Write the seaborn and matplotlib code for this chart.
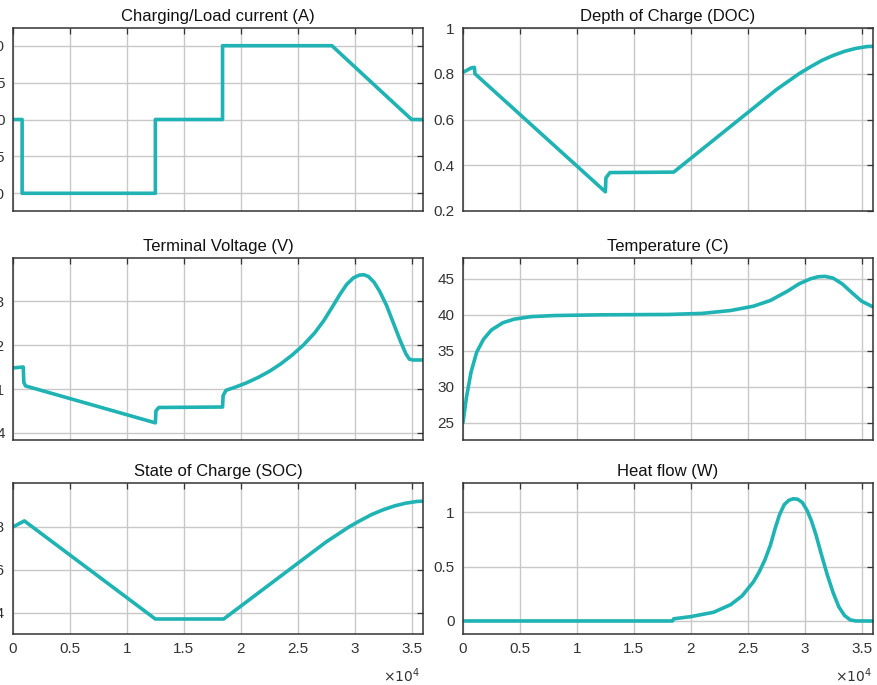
import numpy as np
import pandas as pd
import matplotlib
matplotlib.use("Agg")
import matplotlib.pyplot as plt
import seaborn as sns

# time axis (s) and series values
t_cur = [0, 800, 800, 12500, 12500, 18400, 18400, 28000, 35000, 36000]
i_cur = [0, 0, -10, -10, 0, 0, 10, 10, 0, 0]

t_doc = [0, 700, 1000, 1050, 12500, 12550, 12900, 18500, 21000, 23000, 25000, 26500, 27500,
         28500, 29500, 30500, 31500, 32500, 33500, 34500, 35500, 36000]
doc = [0.806, 0.825, 0.828, 0.80, 0.284, 0.345, 0.368, 0.37, 0.47, 0.55, 0.63, 0.69, 0.73,
       0.765, 0.80, 0.83, 0.858, 0.88, 0.898, 0.911, 0.919, 0.92]

t_volt = [0, 900, 950, 1100, 12500, 12550, 12800, 18400, 18450, 18700, 19500, 20500, 21500,
          22500, 23500, 24500, 25500, 26500, 27300, 28000, 28700, 29300, 29900, 30400, 30800,
          31200, 31700, 32200, 32800, 33400, 34000, 34500, 34800, 35100, 36000]
volt = [4.148, 4.150, 4.115, 4.107, 4.023, 4.050, 4.058, 4.059, 4.085, 4.097, 4.104, 4.114, 4.126,
        4.14, 4.157, 4.177, 4.20, 4.228, 4.256, 4.285, 4.315, 4.338, 4.353, 4.359, 4.360,
        4.356, 4.343, 4.322, 4.29, 4.25, 4.21, 4.18, 4.168, 4.166, 4.166]

t_temp = [0, 300, 700, 1200, 1800, 2500, 3500, 4500, 6000, 8000, 12000, 18000, 21000, 23500,
          25500, 27000, 28500, 29500, 30500, 31200, 31800, 32500, 33300, 34200, 35000, 36000]
temp = [25, 28.5, 32.0, 34.8, 36.6, 37.9, 38.9, 39.4, 39.75, 39.9, 40.0, 40.05, 40.2, 40.6,
        41.2, 42.0, 43.3, 44.3, 45.0, 45.3, 45.35, 45.1, 44.3, 43.0, 41.9, 41.1]

t_soc = [0, 1000, 12500, 18500, 21000, 23000, 25000, 26500, 27500, 28500, 29500, 30500,
         31500, 32500, 33500, 34500, 35500, 36000]
soc = [0.80, 0.828, 0.37, 0.37, 0.47, 0.55, 0.63, 0.69, 0.73, 0.765, 0.80, 0.83,
       0.858, 0.88, 0.898, 0.911, 0.919, 0.92]

t_heat = [0, 18400, 18500, 20000, 22000, 23500, 24500, 25500, 26000, 26500, 27000, 27400,
          27800, 28200, 28600, 29000, 29400, 29800, 30200, 30600, 31000, 31500, 32000,
          32500, 33000, 33500, 34000, 34500, 36000]
heat = [0, 0, 0.02, 0.04, 0.08, 0.15, 0.23, 0.36, 0.45, 0.56, 0.70, 0.85,
        0.98, 1.07, 1.11, 1.125, 1.12, 1.09, 1.02, 0.92, 0.79, 0.60, 0.42,
        0.26, 0.13, 0.05, 0.01, 0.0, 0.0]

titles = ["Charging/Load current (A)", "Depth of Charge (DOC)",
          "Terminal Voltage (V)", "Temperature (C)",
          "State of Charge (SOC)", "Heat flow (W)"]
series = [(t_cur, i_cur), (t_doc, doc), (t_volt, volt),
          (t_temp, temp), (t_soc, soc), (t_heat, heat)]
ylims = [(-12.4, 12.4), (0.2, 1.0), (3.984, 4.398), (22.6, 47.9), (0.30, 1.005), (-0.12, 1.27)]
yticks = [[-10, -5, 0, 5, 10], [0.2, 0.4, 0.6, 0.8, 1], [4.0, 4.1, 4.2, 4.3],
          [25, 30, 35, 40, 45], [0.4, 0.6, 0.8], [0, 0.5, 1]]
xticks = [0, 5000, 10000, 15000, 20000, 25000, 30000, 35000]
xticklabels = ["0", "0.5", "1", "1.5", "2", "2.5", "3", "3.5"]

sns.set_theme(style="white")
plt.rcParams["font.family"] = ["Liberation Sans", "DejaVu Sans"]

W, H = 877, 685
fig = plt.figure(figsize=(W / 100, H / 100), dpi=100)

cols = [(13, 423), (463, 873)]
rows = [(28, 211), (258, 440), (483, 634)]
line_color = "#1fb3b3"

for k in range(6):
    r, c = divmod(k, 2)
    x0, x1 = cols[c]
    top, bot = rows[r]
    ax = fig.add_axes([x0 / W, 1 - bot / H, (x1 - x0) / W, (bot - top) / H])
    t, v = series[k]
    df = pd.DataFrame({"t": t, "v": v})
    sns.lineplot(data=df, x="t", y="v", ax=ax, color=line_color, linewidth=2.6,
                 estimator=None, sort=False)
    ax.set_xlim(0, 36000)
    ax.set_ylim(*ylims[k])
    ax.set_yticks(yticks[k])
    ax.set_yticklabels([f"{y:g}" for y in yticks[k]])
    ax.set_xticks(xticks)
    if r == 2:
        ax.set_xticklabels(xticklabels)
    else:
        ax.set_xticklabels([])
    ax.set_xlabel("")
    ax.set_ylabel("")
    ax.set_title(titles[k], fontsize=12, pad=5, color="#111111")
    ax.grid(True, color="#c8c8c8", linewidth=1.0)
    ax.tick_params(direction="in", length=4, width=0.9, color="#333333",
                   labelsize=11, labelcolor="#333333", top=True, right=True, pad=6)
    for s in ax.spines.values():
        s.set_color("#333333")
        s.set_linewidth(1.1)

fig.text(420 / W, 1 - 676 / H, r"$\times10^4$", ha="right", va="center", fontsize=10, color="#333333")
fig.text(872 / W, 1 - 676 / H, r"$\times10^4$", ha="right", va="center", fontsize=10, color="#333333")

fig.savefig("out.png", dpi=100)
